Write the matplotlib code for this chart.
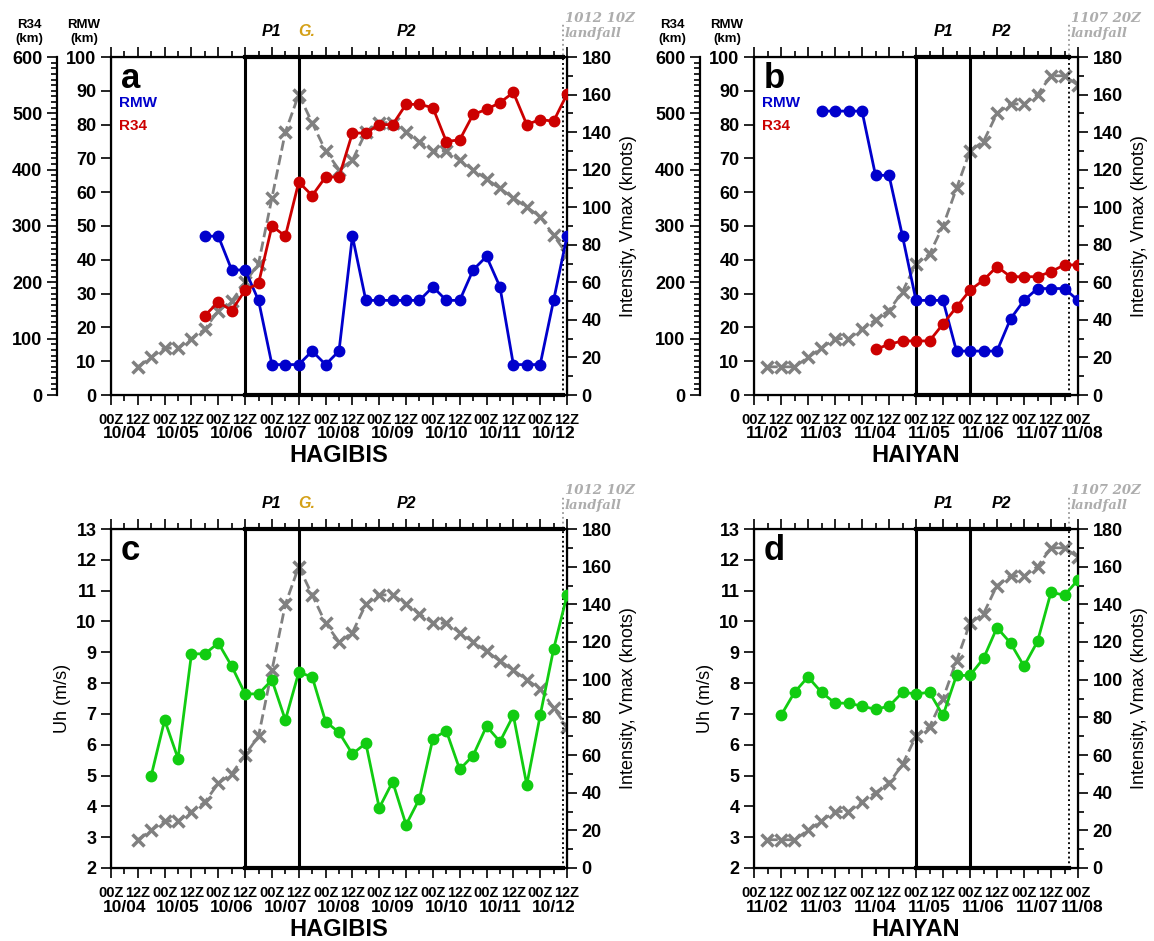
import numpy as np
import matplotlib
matplotlib.use('Agg')
import matplotlib.pyplot as plt
from matplotlib.ticker import MultipleLocator, FixedLocator, FixedFormatter
from matplotlib.transforms import offset_copy

plt.rcParams['font.family'] = ['Liberation Sans', 'DejaVu Sans']
plt.rcParams['font.weight'] = 'bold'

# ---- Hagibis (hours after 00Z 10/04) ----
hag_vmax_t = np.arange(12, 205, 6)
hag_vmax = [15, 20, 25, 25, 30, 35, 45, 50, 60, 70, 105, 140, 160, 145, 130, 120, 125,
            140, 145, 145, 140, 135, 130, 130, 125, 120, 115, 110, 105, 100, 95, 85, 75]
hag_rmw_t = np.arange(42, 205, 6)
hag_rmw = [47, 47, 37, 37, 28, 9, 9, 9, 13, 9, 13, 47, 28, 28, 28, 28, 28, 32, 28, 28,
           37, 41, 32, 9, 9, 9, 28, 47]
hag_r34 = [141, 165, 150, 186, 198, 300, 282, 378, 354, 387, 387, 465, 465, 480, 480, 516,
           516, 510, 450, 453, 498, 507, 519, 537, 480, 489, 486, 534]
hag_uh_t = np.arange(18, 205, 6)
hag_uh = [5.0, 6.8, 5.55, 8.95, 8.95, 9.3, 8.55, 7.65, 7.65, 8.1, 6.8, 8.35, 8.2, 6.75, 6.4,
          5.7, 6.05, 3.95, 4.8, 3.4, 4.25, 6.2, 6.45, 5.2, 5.65, 6.6, 6.1, 6.95, 4.7, 6.95,
          9.1, 10.85]
hag_days = ['10/04', '10/05', '10/06', '10/07', '10/08', '10/09', '10/10', '10/11', '10/12']

# ---- Haiyan (hours after 00Z 11/02) ----
hai_vmax_t = np.arange(6, 145, 6)
hai_vmax = [15, 15, 15, 20, 25, 30, 30, 35, 40, 45, 55, 70, 75, 90, 110, 130, 135, 150,
            155, 155, 160, 170, 170, 165]
hai_rmw_t = np.arange(30, 145, 6)
hai_rmw = [84, 84, 84, 84, 65, 65, 47, 28, 28, 28, 13, 13, 13, 13, 22.5, 28, 31.5, 31.5,
           31.5, 28]
hai_r34_t = np.arange(54, 145, 6)
hai_r34 = [81, 90, 96, 96, 96, 126, 156, 186, 204, 228, 210, 210, 210, 219, 231, 231]
hai_uh_t = np.arange(12, 145, 6)
hai_uh = [6.95, 7.7, 8.2, 7.7, 7.35, 7.35, 7.25, 7.15, 7.25, 7.7, 7.65, 7.7, 6.95, 8.25,
          8.25, 8.8, 9.8, 9.3, 8.55, 9.35, 10.95, 10.85, 11.35]
hai_days = ['11/02', '11/03', '11/04', '11/05', '11/06', '11/07', '11/08']

W, H = 1154, 941
fig = plt.figure(figsize=(W / 100, H / 100), dpi=100)


def box(l, r, t, b):
    return [l / W, 1 - b / H, (r - l) / W, (b - t) / H]


def off(tr, dx, dy):
    return offset_copy(tr, fig=fig, x=dx, y=dy, units='dots')


def setup(ax, tmax, days, lines, landfall, lf_text, name, letter, show_g):
    ax.set_xlim(0, tmax)
    ticks = np.arange(0, tmax + 1, 12)
    ax.xaxis.set_major_locator(FixedLocator(ticks))
    ax.xaxis.set_major_formatter(FixedFormatter(['00Z' if t % 24 == 0 else '12Z' for t in ticks]))
    ax.xaxis.set_minor_locator(MultipleLocator(6))
    ax.tick_params(axis='x', which='both', top=True, direction='out', length=7, width=1.2,
                   pad=6, labelsize=10.5)
    ax.tick_params(axis='x', which='minor', length=4)
    tr = ax.get_xaxis_transform()
    for i, d in enumerate(days):
        x = min(i * 24 + 6, tmax + 2)
        ax.text(x, 0, d, transform=off(tr, 0, -39), ha='center', va='center', fontsize=12.5)
    ax.text(0.5, 0, name, transform=off(ax.transAxes, 0, -61), ha='center', va='center', fontsize=17)
    for x in lines:
        ax.axvline(x, color='k', lw=2.2)
    ax.axvline(landfall, color='0.6', lw=1.3, ls=':', ymax=1.1, clip_on=False)
    ax.axvline(landfall, color='k', lw=1.3, ls=':')
    ax.plot([lines[0], landfall], [1, 1], color='k', lw=3, transform=tr, clip_on=False)
    ax.plot([lines[0], landfall], [0, 0], color='k', lw=3, transform=tr, clip_on=False)
    ytx = off(tr, 0, 25)
    ax.text((lines[0] + lines[1]) / 2, 1, 'P1', transform=ytx, ha='center', va='center',
            style='italic', fontsize=11.5)
    if show_g:
        ax.text(lines[1] + 3.5, 1, 'G.', transform=ytx, ha='center', va='center', style='italic',
                fontsize=11.5, color='#d4a017')
        ax.text(132, 1, 'P2', transform=ytx, ha='center', va='center', style='italic', fontsize=11.5)
    else:
        ax.text(lines[1] + 14, 1, 'P2', transform=ytx, ha='center', va='center', style='italic',
                fontsize=11.5)
    ax.text(landfall, 1, lf_text, transform=off(tr, 2, 17), ha='left', va='bottom', style='italic',
            fontsize=9.5, color='0.68', family='DejaVu Serif', fontweight='bold', linespacing=1.15)
    ax.text(0, 1, letter, transform=off(ax.transAxes, 10, -21), ha='left', va='center', fontsize=25)
    ax.tick_params(axis='y', labelsize=13, width=1.2, length=7)
    for s in ax.spines.values():
        s.set_linewidth(1.6)


def vmax_axis(ax, t, v):
    a2 = ax.twinx()
    a2.plot(t, v, color='0.5', ls='--', lw=2, marker='x', ms=8, mew=2.5)
    a2.set_ylim(0, 180)
    a2.yaxis.set_major_locator(MultipleLocator(20))
    a2.yaxis.set_minor_locator(MultipleLocator(10))
    a2.tick_params(axis='y', which='both', labelsize=13, width=1.2, length=7)
    a2.tick_params(axis='y', which='minor', length=4)
    a2.set_ylabel('Intensity, Vmax (knots)', fontsize=13, labelpad=6)
    a2.set_zorder(ax.get_zorder() - 1)
    ax.patch.set_visible(False)
    return a2


def r34_axis(ax, t, r):
    a3 = ax.twinx()
    for s in ['right', 'top', 'bottom']:
        a3.spines[s].set_visible(False)
    a3.spines['left'].set_visible(True)
    a3.spines['left'].set_position(('outward', 39))
    a3.spines['left'].set_linewidth(1.6)
    a3.yaxis.set_ticks_position('left')
    a3.set_ylim(0, 600)
    a3.yaxis.set_major_locator(MultipleLocator(100))
    a3.yaxis.set_minor_locator(MultipleLocator(10))
    a3.tick_params(axis='y', which='both', labelsize=13, width=1.2, length=7)
    a3.tick_params(axis='y', which='minor', length=4)
    a3.plot(t, r, color='#cc0000', lw=2, marker='o', ms=7.5)
    a3.text(0, 1, 'R34\n(km)', transform=off(a3.transAxes, -82, 25), ha='center', va='center',
            fontsize=9.5, linespacing=1.2)
    return a3


def rmw_panel(ax):
    ax.set_ylim(0, 100)
    ax.yaxis.set_major_locator(MultipleLocator(10))
    ax.yaxis.set_minor_locator(MultipleLocator(5))
    ax.tick_params(axis='y', which='minor', length=0)
    ax.text(0, 1, 'RMW\n(km)', transform=off(ax.transAxes, -27, 25), ha='center', va='center',
            fontsize=9.5, linespacing=1.2)
    ax.text(0, 1, 'RMW', transform=off(ax.transAxes, 8, -46), ha='left', va='center',
            color='#0000cc', fontsize=11)
    ax.text(0, 1, 'R34', transform=off(ax.transAxes, 8, -69), ha='left', va='center',
            color='#cc0000', fontsize=11)


# ---- panel a ----
ax = fig.add_axes(box(111, 567, 57, 395))
setup(ax, 204, hag_days, [60, 84], 202, '1012 10Z\nlandfall', 'HAGIBIS', 'a', True)
vmax_axis(ax, hag_vmax_t, hag_vmax)
r34_axis(ax, hag_rmw_t, hag_r34)
ax.plot(hag_rmw_t, hag_rmw, color='#0000cc', lw=2, marker='o', ms=7.5, zorder=5)
rmw_panel(ax)

# ---- panel b ----
ax = fig.add_axes(box(754, 1078, 57, 395))
setup(ax, 144, hai_days, [72, 96], 140, '1107 20Z\nlandfall', 'HAIYAN', 'b', False)
vmax_axis(ax, hai_vmax_t, hai_vmax)
r34_axis(ax, hai_r34_t, hai_r34)
ax.plot(hai_rmw_t, hai_rmw, color='#0000cc', lw=2, marker='o', ms=7.5, zorder=5)
rmw_panel(ax)

# ---- panel c ----
ax = fig.add_axes(box(111, 567, 529, 868))
setup(ax, 204, hag_days, [60, 84], 202, '1012 10Z\nlandfall', 'HAGIBIS', 'c', True)
vmax_axis(ax, hag_vmax_t, hag_vmax)
ax.plot(hag_uh_t, hag_uh, color='#11cc11', lw=2, marker='o', ms=7.5, zorder=5)
ax.set_ylim(2, 13)
ax.yaxis.set_major_locator(MultipleLocator(1))
ax.set_ylabel('Uh (m/s)', fontsize=13)

# ---- panel d ----
ax = fig.add_axes(box(754, 1078, 529, 868))
setup(ax, 144, hai_days, [72, 96], 140, '1107 20Z\nlandfall', 'HAIYAN', 'd', False)
vmax_axis(ax, hai_vmax_t, hai_vmax)
ax.plot(hai_uh_t, hai_uh, color='#11cc11', lw=2, marker='o', ms=7.5, zorder=5)
ax.set_ylim(2, 13)
ax.yaxis.set_major_locator(MultipleLocator(1))
ax.set_ylabel('Uh (m/s)', fontsize=13)

fig.savefig('out.png', dpi=100)
